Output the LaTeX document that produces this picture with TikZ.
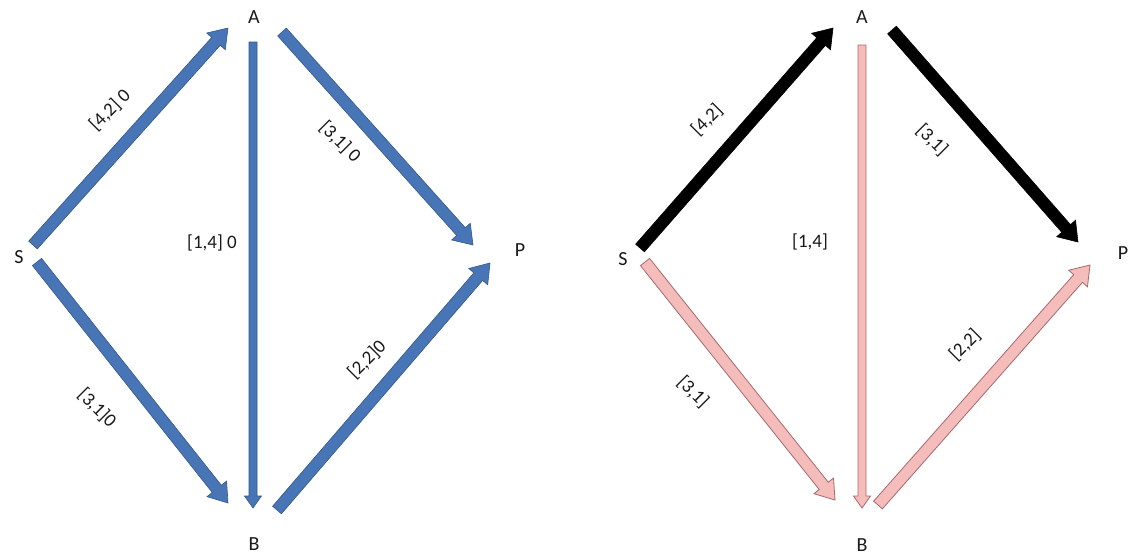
\documentclass[tikz,border=0pt]{standalone}
\usepackage{fontspec}
\setmainfont{Carlito}
\usetikzlibrary{calc}
\definecolor{bluefill}{RGB}{72,117,182}
\definecolor{blueedge}{RGB}{52,88,134}
\definecolor{pinkfill}{RGB}{245,188,188}
\definecolor{pinkedge}{RGB}{170,105,105}
\definecolor{txt}{RGB}{25,25,25}
\tikzset{
  blockarrow/.style n args={3}{to path={
    let \p1=(\tikztostart), \p2=(\tikztotarget),
        \n1={atan2(\y2-\y1,\x2-\x1)}, \n2={veclen(\x2-\x1,\y2-\y1)} in
    ($(\p1)+(\n1+90:#1)$) -- ($(\p1)+(\n1:{\n2-#3})+(\n1+90:#1)$)
    -- ($(\p1)+(\n1:{\n2-#3})+(\n1+90:#2)$) -- (\p2)
    -- ($(\p1)+(\n1:{\n2-#3})+(\n1-90:#2)$) -- ($(\p1)+(\n1:{\n2-#3})+(\n1-90:#1)$)
    -- ($(\p1)+(\n1-90:#1)$) -- cycle}},
  diagarrow/.style={blockarrow={5.8}{12.5}{18}},
  vertarrow/.style={blockarrow={4}{8.5}{12}},
  bluearrow/.style={draw=blueedge, fill=bluefill, line width=0.6pt, line join=miter},
  blackarrow/.style={draw=black, fill=black, line width=0.6pt},
  pinkarrow/.style={draw=pinkedge, fill=pinkfill, line width=0.8pt},
  vlabel/.style={font=\fontsize{20}{23}\selectfont, text=txt, inner sep=0pt},
  elabel/.style={font=\fontsize{19}{22}\selectfont, text=txt, inner sep=0pt},
}
\begin{document}
\begin{tikzpicture}[x=1pt,y=1pt]
\fill[white] (0,0) rectangle (1130,-555);
\useasboundingbox (0,0) rectangle (1130,-555);
% ---------- left graph ----------
\node[vlabel] (S1) at (19,-257) {S};
\node[vlabel] (A1) at (254,-17) {A};
\node[vlabel] (B1) at (254,-544) {B};
\node[vlabel] (P1) at (520,-250) {P};
\coordinate (S1a) at (33,-245);  \coordinate (A1s) at (228,-28);
\coordinate (A1b) at (253,-42);  \coordinate (B1a) at (253,-508);
\coordinate (A1p) at (282,-32);  \coordinate (P1a) at (473,-245);
\coordinate (S1b) at (37,-262);  \coordinate (B1s) at (228,-503);
\coordinate (B1p) at (277,-510); \coordinate (P1b) at (490,-263);
\path[bluearrow, diagarrow] (S1a) to (A1s);
\path[bluearrow, vertarrow] (A1b) to (B1a);
\path[bluearrow, diagarrow] (A1p) to (P1a);
\path[bluearrow, diagarrow] (S1b) to (B1s);
\path[bluearrow, diagarrow] (B1p) to (P1b);
\node[elabel, rotate=45] (l1sa) at (110,-110) {[4,2] 0};
\node[elabel, rotate=-45] (l1ap) at (340,-142) {[3,1] 0};
\node[elabel] (l1ab) at (212,-243) {[1,4] 0};
\node[elabel, rotate=-45] (l1sb) at (97,-408) {[3,1]0};
\node[elabel, rotate=45] (l1bp) at (367,-360) {[2,2]0};
% ---------- right graph ----------
\node[vlabel] (S2) at (623,-259) {S};
\node[vlabel] (A2) at (862,-17) {A};
\node[vlabel] (B2) at (862,-545) {B};
\node[vlabel] (P2) at (1123,-253) {P};
\coordinate (S2a) at (640,-248);  \coordinate (A2s) at (833,-28);
\coordinate (A2b) at (862,-45);   \coordinate (B2a) at (862,-508);
\coordinate (A2p) at (892,-30);   \coordinate (P2a) at (1078,-242);
\coordinate (S2b) at (645,-262);  \coordinate (B2s) at (835,-500);
\coordinate (B2p) at (878,-505);  \coordinate (P2b) at (1090,-265);
\path[blackarrow, diagarrow] (S2a) to (A2s);
\path[pinkarrow, vertarrow] (A2b) to (B2a);
\path[blackarrow, diagarrow] (A2p) to (P2a);
\path[pinkarrow, diagarrow] (S2b) to (B2s);
\path[pinkarrow, diagarrow] (B2p) to (P2b);
\node[elabel, rotate=45] (l2sa) at (707,-120) {[4,2]};
\node[elabel, rotate=-45] (l2ap) at (932,-140) {[3,1]};
\node[elabel] (l2ab) at (810,-242) {[1,4]};
\node[elabel, rotate=-45] (l2sb) at (693,-392) {[3,1]};
\node[elabel, rotate=45] (l2bp) at (965,-345) {[2,2]};
\end{tikzpicture}
\end{document}
